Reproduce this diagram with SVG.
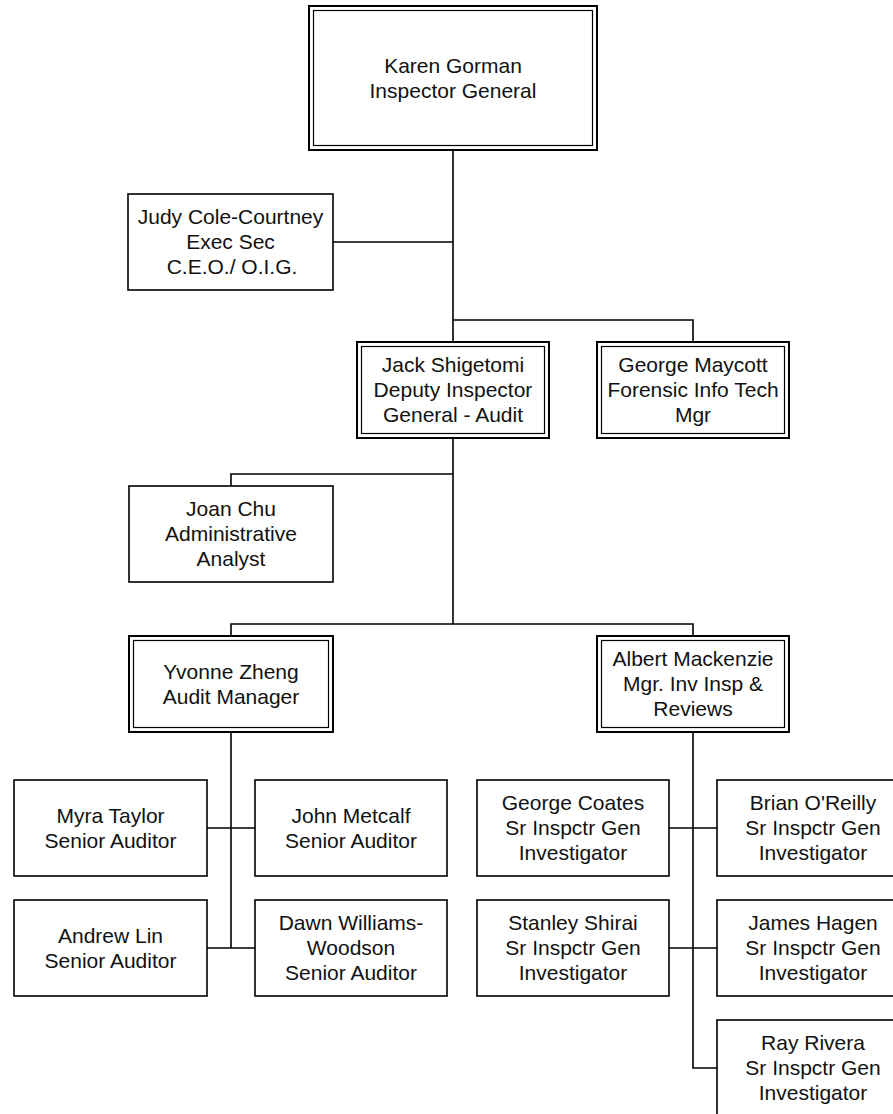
<svg xmlns="http://www.w3.org/2000/svg" width="893" height="1114" viewBox="0 0 893 1114">
<style>
.bg{fill:#fff}
.box{fill:#fff;stroke:#000;stroke-width:1.6}
.outer{fill:#fff;stroke:#000;stroke-width:2}
.inner{fill:none;stroke:#000;stroke-width:1.2}
.conn{fill:none;stroke:#000;stroke-width:1.6}
text{font-family:"Liberation Sans",Arial,sans-serif;font-size:21px;fill:#111;text-anchor:middle}
</style>
<rect class="bg" x="0" y="0" width="893" height="1114"/>
<g id="connectors">
<path class="conn" d="M453,150V342M333,242H453M453,320H693V342M453,438V624M453,474H231V486M231,636V624H693V636M231,732V948M207,828H255M207,948H255M693,732V1068H717M669,828H717M669,948H717"/>
</g>
<g id="karen">
<rect class="outer" x="309" y="6" width="288" height="144"/>
<rect class="inner" x="313.5" y="10.5" width="279" height="135"/>
<text x="453" y="73">Karen Gorman</text>
<text x="453" y="98">Inspector General</text>
</g>
<g id="judy">
<rect class="box" x="128" y="194" width="205" height="96"/>
<text x="230.5" y="224">Judy Cole-Courtney</text>
<text x="230.5" y="249">Exec Sec</text>
<text x="232" y="274">C.E.O./ O.I.G.</text>
</g>
<g id="jack">
<rect class="outer" x="357" y="342" width="192" height="96"/>
<rect class="inner" x="361.5" y="346.5" width="183" height="87"/>
<text x="453" y="372">Jack Shigetomi</text>
<text x="453" y="397">Deputy Inspector</text>
<text x="453" y="422">General - Audit</text>
</g>
<g id="maycott">
<rect class="outer" x="597" y="342" width="192" height="96"/>
<rect class="inner" x="601.5" y="346.5" width="183" height="87"/>
<text x="693" y="372">George Maycott</text>
<text x="693" y="397">Forensic Info Tech</text>
<text x="693" y="422">Mgr</text>
</g>
<g id="joan">
<rect class="box" x="129" y="486" width="204" height="96"/>
<text x="231" y="516">Joan Chu</text>
<text x="231" y="541">Administrative</text>
<text x="231" y="566">Analyst</text>
</g>
<g id="yvonne">
<rect class="outer" x="129" y="636" width="204" height="96"/>
<rect class="inner" x="133.5" y="640.5" width="195" height="87"/>
<text x="231" y="679">Yvonne Zheng</text>
<text x="231" y="704">Audit Manager</text>
</g>
<g id="albert">
<rect class="outer" x="597" y="636" width="192" height="96"/>
<rect class="inner" x="601.5" y="640.5" width="183" height="87"/>
<text x="693" y="666">Albert Mackenzie</text>
<text x="693" y="691">Mgr. Inv Insp &amp;</text>
<text x="693" y="716">Reviews</text>
</g>
<g id="myra">
<rect class="box" x="14" y="780" width="193" height="96"/>
<text x="110.5" y="823">Myra Taylor</text>
<text x="110.5" y="848">Senior Auditor</text>
</g>
<g id="metcalf">
<rect class="box" x="255" y="780" width="192" height="96"/>
<text x="351" y="823">John Metcalf</text>
<text x="351" y="848">Senior Auditor</text>
</g>
<g id="andrew">
<rect class="box" x="14" y="900" width="193" height="96"/>
<text x="110.5" y="943">Andrew Lin</text>
<text x="110.5" y="968">Senior Auditor</text>
</g>
<g id="dawn">
<rect class="box" x="255" y="900" width="192" height="96"/>
<text x="351" y="930">Dawn Williams-</text>
<text x="351" y="955">Woodson</text>
<text x="351" y="980">Senior Auditor</text>
</g>
<g id="coates">
<rect class="box" x="477" y="780" width="192" height="96"/>
<text x="573" y="810">George Coates</text>
<text x="573" y="835">Sr Inspctr Gen</text>
<text x="573" y="860">Investigator</text>
</g>
<g id="oreilly">
<rect class="box" x="717" y="780" width="192" height="96"/>
<text x="813" y="810">Brian O'Reilly</text>
<text x="813" y="835">Sr Inspctr Gen</text>
<text x="813" y="860">Investigator</text>
</g>
<g id="shirai">
<rect class="box" x="477" y="900" width="192" height="96"/>
<text x="573" y="930">Stanley Shirai</text>
<text x="573" y="955">Sr Inspctr Gen</text>
<text x="573" y="980">Investigator</text>
</g>
<g id="hagen">
<rect class="box" x="717" y="900" width="192" height="96"/>
<text x="813" y="930">James Hagen</text>
<text x="813" y="955">Sr Inspctr Gen</text>
<text x="813" y="980">Investigator</text>
</g>
<g id="rivera">
<rect class="box" x="717" y="1020" width="192" height="96"/>
<text x="813" y="1050">Ray Rivera</text>
<text x="813" y="1075">Sr Inspctr Gen</text>
<text x="813" y="1100">Investigator</text>
</g>
</svg>
